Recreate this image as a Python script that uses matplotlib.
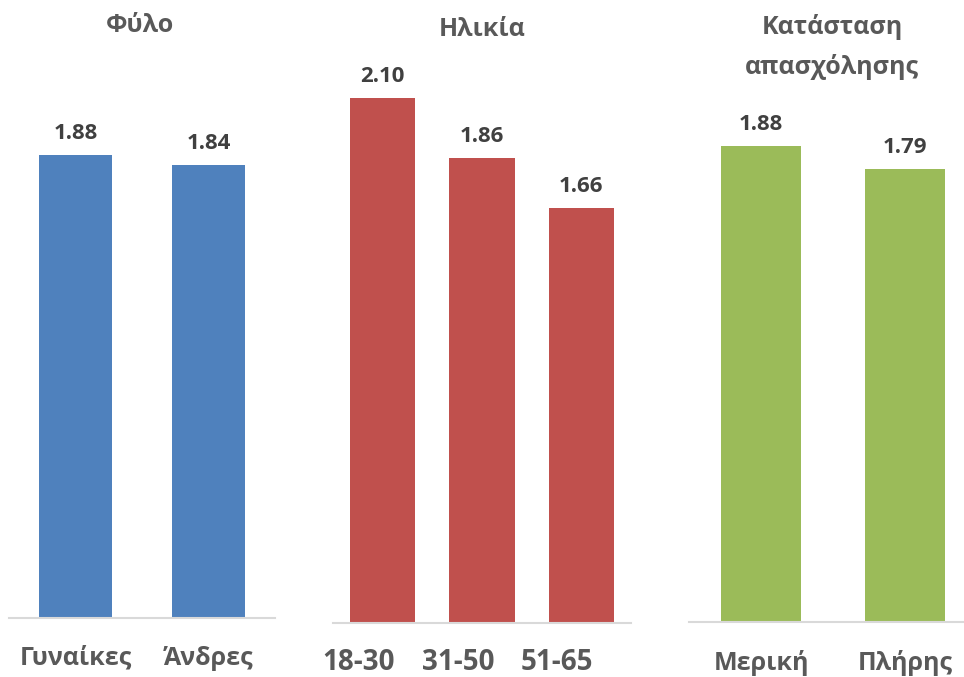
import matplotlib
matplotlib.use("Agg")
import matplotlib.pyplot as plt
import matplotlib.transforms as mtransforms

plt.rcParams['font.family'] = ['Open Sans', 'DejaVu Sans']

W, H = 964, 677

# Data
titles = ["Φύλο", "Ηλικία", "Κατάσταση\nαπασχόλησης"]
cats_gender = ["Γυναίκες", "Άνδρες"]
vals_gender = [1.88, 1.84]
cats_age = ["18-30", "31-50", "51-65"]
vals_age = [2.10, 1.86, 1.66]
cats_work = ["Μερική", "Πλήρης"]
vals_work = [1.88, 1.79]

colors = ["#4F81BD", "#C0504D", "#9BBB59"]

fig = plt.figure(figsize=(W / 100, H / 100), dpi=100)

# panel layout in pixels:
# (left, right, baseline, px per unit, bar width, title cx, title cy, label size, label dx px, label pad)
layout = [
    (9, 275, 618, 246.3, 0.55, 140, 25, 18, 0, 20),
    (333, 631, 623, 249.8, 0.66, 482, 30, 20, -24, 18),
    (689, 977, 622, 253.0, 0.555, 832, 47, 18, 0, 20),
]
panels = [(cats_gender, vals_gender), (cats_age, vals_age), (cats_work, vals_work)]
ymax = 2.3

for (cats, vals), lay, col, title in zip(panels, layout, colors, titles):
    l, r, base, ppu, bw, tx, ty, lsize, ldx, lpad = lay
    hpx = ymax * ppu
    ax = fig.add_axes([l / W, (H - base) / H, (r - l) / W, hpx / H])
    x = list(range(len(cats)))
    bars = ax.bar(x, vals, width=bw, color=col)
    ax.set_xlim(-0.5, len(cats) - 0.5)
    ax.set_ylim(0, ymax)
    for s in ["top", "right", "left"]:
        ax.spines[s].set_visible(False)
    ax.spines["bottom"].set_color("#D9D9D9")
    ax.spines["bottom"].set_linewidth(1.5)
    ax.set_yticks([])
    ax.set_xticks(x)
    ax.set_xticklabels(cats, fontsize=lsize, fontweight="bold", color="#595959")
    ax.tick_params(axis="x", length=0, pad=lpad)
    if ldx:
        off = mtransforms.ScaledTranslation(ldx / 100, 0, fig.dpi_scale_trans)
        for lab in ax.get_xticklabels():
            lab.set_transform(lab.get_transform() + off)
    for b, v in zip(bars, vals):
        ax.annotate(f"{v:.2f}", (b.get_x() + b.get_width() / 2, v),
                    xytext=(0, 8), textcoords="offset points",
                    ha="center", va="bottom", fontsize=16, fontweight="bold",
                    color="#404040")
    fig.text(tx / W, 1 - ty / H, title, ha="center", va="center",
             fontsize=18, fontweight="bold", color="#595959", linespacing=1.65)

fig.savefig("out.png", dpi=100)
